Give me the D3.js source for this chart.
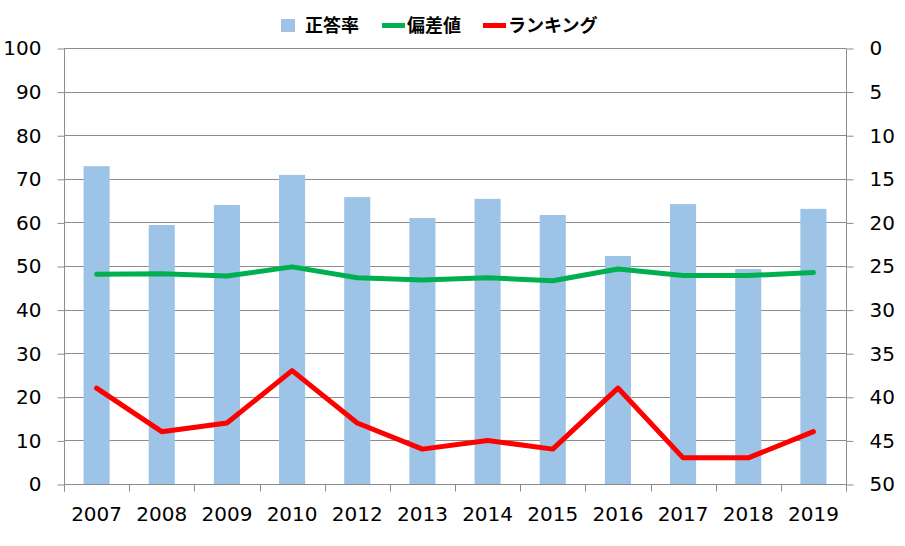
<!DOCTYPE html>
<html>
<head>
<meta charset="utf-8">
<script src="https://cdn.jsdelivr.net/npm/d3@7"></script>
<style>
  body { margin: 0; background: #fff; }
  text { font-family: "DejaVu Sans", Verdana, sans-serif; }
  .legend text { font-family: "Noto Sans CJK JP", sans-serif; font-weight: bold; }
</style>
</head>
<body>
<div id="chart"></div>
<script>
// data
var years = ["2007", "2008", "2009", "2010", "2012", "2013", "2014", "2015", "2016", "2017", "2018", "2019"];
var correctRate = [72.9, 59.4, 64.0, 70.9, 65.8, 61.0, 65.4, 61.7, 52.3, 64.2, 49.3, 63.1];
var deviation = [48.1, 48.2, 47.7, 49.8, 47.3, 46.8, 47.3, 46.6, 49.3, 47.8, 47.8, 48.5];
var ranking = [39, 44, 43, 37, 43, 46, 45, 46, 39, 47, 47, 44];
var leftTicks = [0, 10, 20, 30, 40, 50, 60, 70, 80, 90, 100];
var rightTicks = [0, 5, 10, 15, 20, 25, 30, 35, 40, 45, 50];
var seriesNames = ["正答率", "偏差値", "ランキング"];

var width = 905, height = 546;
// plot area
var plotL = 64, plotR = 846, plotT = 48, plotB = 484;

var svg = d3.select("#chart").append("svg")
    .attr("width", width)
    .attr("height", height);

// scales
var x = d3.scaleBand().domain(years).range([plotL, plotR]).paddingInner(0.6).paddingOuter(0.3);
var yL = d3.scaleLinear().domain([0, 100]).range([plotB, plotT]);
var yR = d3.scaleLinear().domain([0, 50]).range([plotT, plotB]);

// gridlines
svg.append("g")
    .selectAll("line")
    .data(leftTicks)
    .enter()
    .append("line")
    .attr("x1", plotL).attr("x2", plotR)
    .attr("y1", d => Math.round(yL(d)) + 0.5).attr("y2", d => Math.round(yL(d)) + 0.5)
    .attr("stroke", "#8c8c8c").attr("stroke-width", 1);

// left axis
var leftAxis = d3.axisLeft(yL).tickValues(leftTicks).tickSize(7).tickPadding(16);
var gl = svg.append("g").attr("transform", "translate(" + (plotL + 0.5) + ",0.5)").call(leftAxis);

// right axis
var rightAxis = d3.axisRight(yR).tickValues(rightTicks).tickSize(7).tickPadding(16);
var gr = svg.append("g").attr("transform", "translate(" + (plotR + 0.5) + ",0.5)").call(rightAxis);

// bottom axis, ticks between categories
var bottomAxis = d3.axisBottom(x).tickSize(0).tickPadding(22);
var gb = svg.append("g").attr("transform", "translate(0," + (plotB + 0.5) + ")").call(bottomAxis);
var bounds = years.map((d, i) => plotL + i * x.step()).concat([plotR]);
gb.selectAll(".sep")
    .data(bounds)
    .enter()
    .append("line")
    .attr("class", "sep")
    .attr("x1", d => Math.round(d) + 0.5).attr("x2", d => Math.round(d) + 0.5)
    .attr("y1", 0).attr("y2", 7)
    .attr("stroke", "#8c8c8c");

[gl, gr, gb].forEach(function (g) {
    g.select(".domain").attr("stroke", "#8c8c8c");
    g.selectAll(".tick line").attr("stroke", "#8c8c8c");
    g.selectAll("text").attr("font-size", 20).attr("fill", "#000")
        .style("font-family", "'DejaVu Sans', Verdana, sans-serif");
});
gb.select(".domain").attr("d", "M" + plotL + ",0H" + plotR);
gl.select(".domain").attr("d", "M0," + plotT + "V" + (plotB + 7));
gr.select(".domain").attr("d", "M0," + plotT + "V" + (plotB + 7));

// bars
svg.append("g")
    .selectAll("rect")
    .data(correctRate)
    .enter()
    .append("rect")
    .attr("x", (d, i) => x(years[i]))
    .attr("y", d => yL(d))
    .attr("width", x.bandwidth())
    .attr("height", d => plotB - yL(d))
    .attr("fill", "#9dc3e6");

// lines
var devLine = d3.line()
    .x((d, i) => x(years[i]) + x.bandwidth() / 2)
    .y(d => yL(d));
svg.append("path")
    .datum(deviation)
    .attr("d", devLine)
    .attr("fill", "none")
    .attr("stroke", "#00b050")
    .attr("stroke-width", 5)
    .attr("stroke-linejoin", "round")
    .attr("stroke-linecap", "round");

var rankLine = d3.line()
    .x((d, i) => x(years[i]) + x.bandwidth() / 2)
    .y(d => yR(d));
svg.append("path")
    .datum(ranking)
    .attr("d", rankLine)
    .attr("fill", "none")
    .attr("stroke", "#ff0000")
    .attr("stroke-width", 5)
    .attr("stroke-linejoin", "round")
    .attr("stroke-linecap", "round");

// legend
var legend = svg.append("g").attr("class", "legend");
var lx = [281, 382, 483];
legend.append("rect")
    .attr("x", lx[0]).attr("y", 19).attr("width", 14).attr("height", 13)
    .attr("fill", "#9dc3e6");
legend.append("line")
    .attr("x1", lx[1]).attr("x2", lx[1] + 23).attr("y1", 25.5).attr("y2", 25.5)
    .attr("stroke", "#00b050").attr("stroke-width", 5);
legend.append("line")
    .attr("x1", lx[2]).attr("x2", lx[2] + 23).attr("y1", 25.5).attr("y2", 25.5)
    .attr("stroke", "#ff0000").attr("stroke-width", 5);
legend.selectAll("text")
    .data(seriesNames)
    .enter()
    .append("text")
    .attr("x", (d, i) => i == 0 ? lx[0] + 24 : lx[i] + 25)
    .attr("y", 32)
    .attr("font-size", 18)
    .text(d => d);
</script>
</body>
</html>
